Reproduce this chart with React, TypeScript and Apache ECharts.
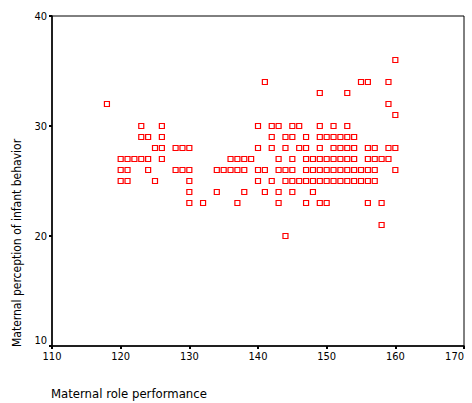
import React, { useEffect, useRef } from "react";
import * as echarts from "echarts";

// Maternal role performance (x) and maternal perception of infant behavior (y)
const rowY36 = [160];
const rowY34 = [141, 155, 156, 159];
const rowY33 = [149, 153];
const rowY32 = [118, 159];
const rowY31 = [160];
const rowY30 = [123, 126, 140, 142, 143, 145, 146, 149, 151, 153];
const rowY29 = [123, 124, 126, 142, 144, 145, 147, 149, 150, 151, 152, 153, 154];
const rowY28 = [125, 126, 128, 129, 130, 140, 142, 144, 146, 147, 149, 151, 152, 153, 154, 156, 157, 159, 160];
const rowY27 = [120, 121, 122, 123, 124, 126, 136, 137, 138, 139, 143, 145, 147, 148, 149, 150, 151, 152, 153, 154, 156, 157, 158, 159];
const rowY26 = [120, 121, 124, 128, 129, 130, 134, 135, 136, 137, 138, 140, 141, 143, 144, 145, 147, 148, 149, 150, 151, 152, 153, 154, 155, 156, 157, 160];
const rowY25 = [120, 121, 125, 130, 140, 142, 144, 145, 146, 147, 148, 149, 150, 151, 152, 153, 154, 155, 156, 157];
const rowY24 = [130, 134, 138, 141, 143, 145, 148];
const rowY23 = [130, 132, 137, 143, 147, 149, 150, 156, 158];
const rowY21 = [158];
const rowY20 = [144];

const rows: [number, number[]][] = [
  [36, rowY36], [34, rowY34], [33, rowY33], [32, rowY32], [31, rowY31],
  [30, rowY30], [29, rowY29], [28, rowY28], [27, rowY27], [26, rowY26],
  [25, rowY25], [24, rowY24], [23, rowY23], [21, rowY21], [20, rowY20],
];

const xTitle = "Maternal role performance";
const yTitle = "Maternal perception of infant behavior";

const FONT = "'DejaVu Sans Condensed', 'DejaVu Sans', sans-serif";

export default function App() {
  const ref = useRef<HTMLDivElement>(null);
  useEffect(() => {
    if (!ref.current) return;
    const chart = echarts.init(ref.current, undefined, { renderer: "svg" });
    const data: number[][] = [];
    rows.forEach(([y, xs]) => xs.forEach((x) => data.push([x, y])));
    chart.setOption({
      animation: false,
      backgroundColor: "#ffffff",
      grid: {
        left: 52,
        right: 8,
        top: 16,
        bottom: 57,
        show: true,
        borderColor: "#000",
        borderWidth: 1,
        backgroundColor: "transparent",
      },
      xAxis: {
        type: "value",
        min: 110,
        max: 170,
        interval: 10,
        splitLine: { show: false },
        axisLine: { show: true, onZero: false, lineStyle: { color: "#000", width: 1.5 } },
        axisTick: { show: true, length: 3, lineStyle: { color: "#000", width: 2 } },
        axisLabel: {
          color: "#000",
          fontFamily: FONT,
          fontSize: 11,
          margin: 5,
          alignMaxLabel: "right",
        },
      },
      yAxis: {
        type: "value",
        min: 10,
        max: 40,
        interval: 10,
        splitLine: { show: false },
        axisLine: { show: true, onZero: false, lineStyle: { color: "#000", width: 1.5 } },
        axisTick: { show: true, length: 3, lineStyle: { color: "#000", width: 2 } },
        axisLabel: {
          color: "#000",
          fontFamily: FONT,
          fontSize: 11,
          margin: 5,
          verticalAlignMinLabel: "bottom",
        },
      },
      graphic: [
        {
          type: "text",
          left: 51,
          top: 387,
          style: { text: xTitle, fill: "#000", font: `13px ${FONT}` },
        },
        {
          type: "text",
          x: 11,
          y: 347,
          rotation: Math.PI / 2,
          style: {
            text: yTitle,
            fill: "#000",
            font: `12px ${FONT}`,
            textAlign: "left",
            textVerticalAlign: "top",
          },
        },
      ],
      series: [
        {
          type: "scatter",
          data,
          symbol: "rect",
          symbolSize: 5,
          itemStyle: { color: "#ffffff", borderColor: "#ff0000", borderWidth: 1.2, opacity: 1 },
        },
      ],
    });
    return () => chart.dispose();
  }, []);
  return (
    <div
      ref={ref}
      style={{ position: "fixed", left: 0, top: 0, width: 472, height: 403 }}
    />
  );
}
